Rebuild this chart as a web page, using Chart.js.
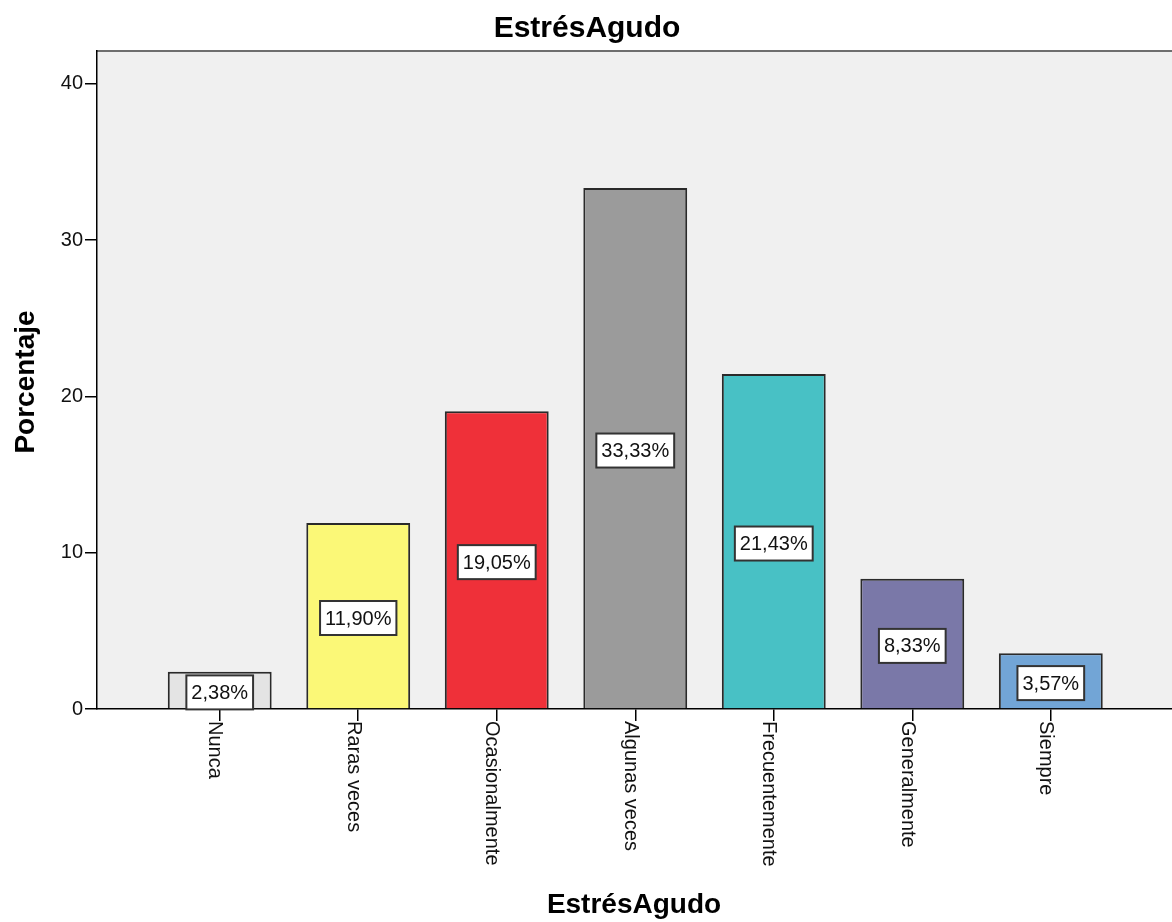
<!DOCTYPE html>
<html>
<head>
<meta charset="utf-8">
<script src="https://cdn.jsdelivr.net/npm/chart.js@4.4.0/dist/chart.umd.min.js"></script>
<style>
  body { margin: 0; background: #fff; }
  #wrap { width: 1172px; height: 922px; position: relative; }
</style>
</head>
<body>
<div id="wrap"><canvas id="stressChart"></canvas></div>
<script>
// Data
const categories = ["Nunca", "Raras veces", "Ocasionalmente", "Algunas veces", "Frecuentemente", "Generalmente", "Siempre"];
const percentages = [2.38, 11.90, 19.05, 33.33, 21.43, 8.33, 3.57];
const percentLabels = ["2,38%", "11,90%", "19,05%", "33,33%", "21,43%", "8,33%", "3,57%"];
const barColors = ["#e4e4e4", "#fbf877", "#ef3039", "#9b9b9b", "#48c1c5", "#7a78a8", "#72a5d6"];
const yTicks = [0, 10, 20, 30, 40];

const FONT = '"Liberation Sans", Arial, sans-serif';

// Background of plot area, frame, custom labels
const spssDecor = {
  id: "spssDecor",
  beforeDraw(chart) {
    const { ctx, chartArea: a } = chart;
    ctx.save();
    ctx.fillStyle = "#f0f0f0";
    ctx.fillRect(a.left, a.top, a.right - a.left, a.bottom - a.top);
    ctx.strokeStyle = "#6e6e6e";
    ctx.lineWidth = 2;
    ctx.beginPath();
    ctx.moveTo(a.left, a.top);
    ctx.lineTo(a.right, a.top);
    ctx.stroke();
    ctx.restore();
  },
  afterDatasetsDraw(chart) {
    const { ctx } = chart;
    const meta = chart.getDatasetMeta(0);
    const y = chart.scales.y;
    ctx.save();
    ctx.font = "20px " + FONT;
    ctx.textAlign = "center";
    ctx.textBaseline = "middle";
    meta.data.forEach((bar, i) => {
      const cy = y.getPixelForValue(percentages[i] / 2) + 2;
      const w = ctx.measureText(percentLabels[i]).width + 10;
      const h = 34;
      ctx.fillStyle = "#fff";
      ctx.fillRect(bar.x - w / 2, cy - h / 2, w, h);
      ctx.strokeStyle = "#333";
      ctx.lineWidth = 2;
      ctx.strokeRect(bar.x - w / 2, cy - h / 2, w, h);
      ctx.fillStyle = "#111";
      ctx.fillText(percentLabels[i], bar.x, cy + 1);
    });
    ctx.restore();
  },
  afterDraw(chart) {
    const { ctx, chartArea: a } = chart;
    const x = chart.scales.x;
    ctx.save();
    ctx.fillStyle = "#111";
    // vertical category labels, reading top to bottom
    ctx.font = "20px " + FONT;
    ctx.textAlign = "left";
    ctx.textBaseline = "middle";
    categories.forEach((c, i) => {
      ctx.save();
      ctx.translate(x.getPixelForValue(i) - 5, a.bottom + 12);
      ctx.rotate(Math.PI / 2);
      ctx.fillText(c, 0, 0);
      ctx.restore();
    });
    // titles
    ctx.fillStyle = "#000";
    ctx.textAlign = "center";
    ctx.textBaseline = "alphabetic";
    ctx.font = "bold 30px " + FONT;
    ctx.fillText("EstrésAgudo", 587, 37);
    ctx.font = "bold 28px " + FONT;
    ctx.fillText("EstrésAgudo", 634, 913);
    ctx.save();
    ctx.translate(26, 382);
    ctx.rotate(-Math.PI / 2);
    ctx.textBaseline = "middle";
    ctx.fillText("Porcentaje", 0, 0);
    ctx.restore();
    ctx.restore();
  }
};

new Chart(document.getElementById("stressChart"), {
  type: "bar",
  data: {
    datasets: [
      {
        data: percentages.map((v, i) => ({ x: i, y: v })),
        backgroundColor: barColors,
        borderColor: "#2a2a2a",
        borderWidth: 2,
        barPercentage: 0.75,
        categoryPercentage: 1.0,
      },
    ],
  },
  options: {
    responsive: true,
    maintainAspectRatio: false,
    animation: false,
    layout: { padding: { top: 51, left: 0, right: 0, bottom: 0 } },
    plugins: {
      legend: { display: false },
      title: { display: false },
      tooltip: { enabled: false },
    },
    scales: {
      x: {
        type: "linear",
        offset: false,
        min: -0.886,
        max: 6.875,
        ticks: { display: false, stepSize: 1, includeBounds: false },
        grid: { offset: false, drawOnChartArea: false, drawTicks: true, tickLength: 12, color: "#000", lineWidth: 1.5 },
        border: { color: "#000", width: 1.5 },
        afterFit: (s) => { s.height = 213; },
      },
      y: {
        min: 0,
        max: 42.1,
        afterBuildTicks: (s) => { s.ticks = yTicks.map((v) => ({ value: v })); },
        ticks: { font: { size: 20, family: FONT }, color: "#111", padding: 2 },
        grid: { drawOnChartArea: false, drawTicks: true, tickLength: 12, color: "#000", lineWidth: 1.5 },
        border: { color: "#000", width: 1.5 },
        afterFit: (s) => { s.width = 97; },
      },
    },
  },
  plugins: [spssDecor],
});
</script>
</body>
</html>
